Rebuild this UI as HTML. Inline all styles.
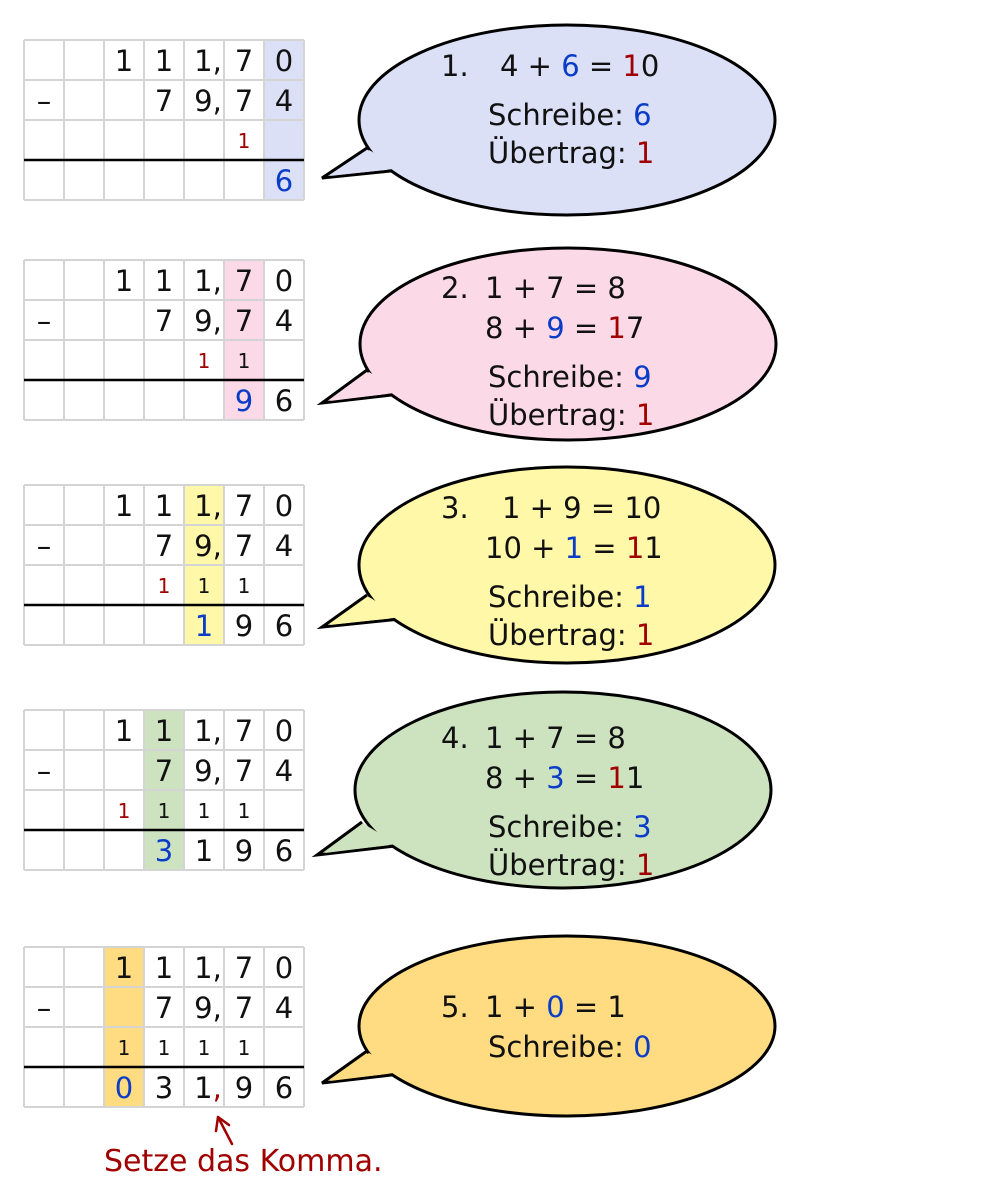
<!DOCTYPE html>
<html><head><meta charset="utf-8"><style>
body{margin:0;background:#fff;width:1000px;height:1196px;overflow:hidden}
svg{display:block}
text{font-family:"DejaVu Sans","Liberation Sans",sans-serif}
.d{font-size:29px;text-anchor:middle;fill:#111}
.c{font-size:20px;text-anchor:middle;fill:#111}
.t{font-size:29px;fill:#111}
.b{fill:#0a3cc8}.r{fill:#a00000}
.g{stroke:#d4d4d4;stroke-width:2;fill:none}
.e{stroke:#000;stroke-width:3}
</style></head><body>
<svg width="1000" height="1196" viewBox="0 0 1000 1196">
<defs>
<g id="grid">
<path class="g" d="M24 0H304M24 40H304M24 80H304M24 120H304M24 160H304M24 0V160M64 0V160M104 0V160M144 0V160M184 0V160M224 0V160M264 0V160M304 0V160"/>
<line x1="24" y1="120" x2="304" y2="120" stroke="#000" stroke-width="2.5"/>
<text class="d" x="124" y="31">1</text><text class="d" x="164" y="31">1</text><text class="d" x="208" y="31">1,</text><text class="d" x="244" y="31">7</text><text class="d" x="284" y="31">0</text>
<text class="d" x="44" y="71">–</text><text class="d" x="164" y="71">7</text><text class="d" x="208" y="71">9,</text><text class="d" x="244" y="71">7</text><text class="d" x="284" y="71">4</text>
</g>
</defs>

<!-- Block 1 -->
<g transform="translate(0,40)">
<rect x="264" y="0" width="40" height="160" fill="#dbe0f7"/>
<use href="#grid"/>
<text class="c r" x="244" y="108">1</text>
<text class="d b" x="284" y="151">6</text>
<path d="M367 108 L322 138 L400 130" fill="#dbe0f7" stroke="#000" stroke-width="3" stroke-linejoin="miter"/>
<ellipse cx="567" cy="80" rx="208" ry="95" fill="#dbe0f7" class="e"/>
<path d="M369 110 L330 136 L402 128 Z" fill="#dbe0f7"/>
<text class="t" x="441" y="36">1.</text>
<text class="t" x="500" y="36">4 + <tspan class="b">6</tspan> = <tspan class="r">1</tspan>0</text>
<text class="t" x="488" y="85">Schreibe:  <tspan class="b">6</tspan></text>
<text class="t" x="488" y="123">Übertrag: <tspan class="r">1</tspan></text>
</g>

<!-- Block 2 -->
<g transform="translate(0,260)">
<rect x="224" y="0" width="40" height="160" fill="#fcd9e6"/>
<use href="#grid"/>
<text class="c r" x="204" y="108">1</text><text class="c" x="244" y="108">1</text>
<text class="d b" x="244" y="151">9</text><text class="d" x="284" y="151">6</text>
<path d="M367 110 L322 143 L400 134" fill="#fcd9e6" stroke="#000" stroke-width="3"/>
<ellipse cx="568" cy="84" rx="208" ry="96" fill="#fcd9e6" class="e"/>
<path d="M369 112 L330 141 L402 132 Z" fill="#fcd9e6"/>
<text class="t" x="441" y="38">2.</text>
<text class="t" x="485" y="38">1 + 7 = 8</text>
<text class="t" x="485" y="78">8 + <tspan class="b">9</tspan> = <tspan class="r">1</tspan>7</text>
<text class="t" x="488" y="127">Schreibe: <tspan class="b">9</tspan></text>
<text class="t" x="488" y="165">Übertrag: <tspan class="r">1</tspan></text>
</g>

<!-- Block 3 -->
<g transform="translate(0,485)">
<rect x="184" y="0" width="40" height="160" fill="#fff8a8"/>
<use href="#grid"/>
<text class="c r" x="164" y="108">1</text><text class="c" x="204" y="108">1</text><text class="c" x="244" y="108">1</text>
<text class="d b" x="204" y="151">1</text><text class="d" x="244" y="151">9</text><text class="d" x="284" y="151">6</text>
<path d="M367 110 L322 142 L400 134" fill="#fff8a8" stroke="#000" stroke-width="3"/>
<ellipse cx="567" cy="80" rx="208" ry="98" fill="#fff8a8" class="e"/>
<path d="M369 112 L330 140 L402 132 Z" fill="#fff8a8"/>
<text class="t" x="441" y="33">3.</text>
<text class="t" x="502" y="33">1 + 9 = 10</text>
<text class="t" x="485" y="73">10 + <tspan class="b">1</tspan> = <tspan class="r">1</tspan>1</text>
<text class="t" x="488" y="122">Schreibe: <tspan class="b">1</tspan></text>
<text class="t" x="488" y="160">Übertrag: <tspan class="r">1</tspan></text>
</g>

<!-- Block 4 -->
<g transform="translate(0,710)">
<rect x="144" y="0" width="40" height="160" fill="#cde3c0"/>
<use href="#grid"/>
<text class="c r" x="124" y="108">1</text><text class="c" x="164" y="108">1</text><text class="c" x="204" y="108">1</text><text class="c" x="244" y="108">1</text>
<text class="d b" x="164" y="151">3</text><text class="d" x="204" y="151">1</text><text class="d" x="244" y="151">9</text><text class="d" x="284" y="151">6</text>
<path d="M362 112 L317 145 L395 136" fill="#cde3c0" stroke="#000" stroke-width="3"/>
<ellipse cx="563" cy="80" rx="208" ry="98" fill="#cde3c0" class="e"/>
<path d="M364 114 L325 143 L397 134 Z" fill="#cde3c0"/>
<text class="t" x="441" y="38">4.</text>
<text class="t" x="485" y="38">1 + 7 = 8</text>
<text class="t" x="485" y="78">8 + <tspan class="b">3</tspan> = <tspan class="r">1</tspan>1</text>
<text class="t" x="488" y="127">Schreibe: <tspan class="b">3</tspan></text>
<text class="t" x="488" y="165">Übertrag: <tspan class="r">1</tspan></text>
</g>

<!-- Block 5 -->
<g transform="translate(0,947)">
<rect x="104" y="0" width="40" height="160" fill="#ffdc82"/>
<use href="#grid"/>
<text class="c" x="124" y="108">1</text><text class="c" x="164" y="108">1</text><text class="c" x="204" y="108">1</text><text class="c" x="244" y="108">1</text>
<text class="d b" x="124" y="151">0</text><text class="d" x="164" y="151">3</text><text class="d" x="208" y="151">1<tspan class="r">,</tspan></text><text class="d" x="244" y="151">9</text><text class="d" x="284" y="151">6</text>
<path d="M367 104 L322 136 L400 127" fill="#ffdc82" stroke="#000" stroke-width="3"/>
<ellipse cx="567" cy="79" rx="208" ry="90" fill="#ffdc82" class="e"/>
<path d="M369 106 L330 134 L402 125 Z" fill="#ffdc82"/>
<text class="t" x="441" y="70">5.</text>
<text class="t" x="485" y="70">1 + <tspan class="b">0</tspan> = 1</text>
<text class="t" x="488" y="110">Schreibe: <tspan class="b">0</tspan></text>
</g>

<!-- arrow + label -->
<path d="M232 1144 L218 1117 M218 1117 L216 1131 M218 1117 L229 1125" stroke="#a00000" stroke-width="2.5" fill="none" stroke-linecap="round"/>
<text x="104" y="1171" style="font-size:30px;fill:#a00000">Setze das Komma.</text>
</svg>
</body></html>
